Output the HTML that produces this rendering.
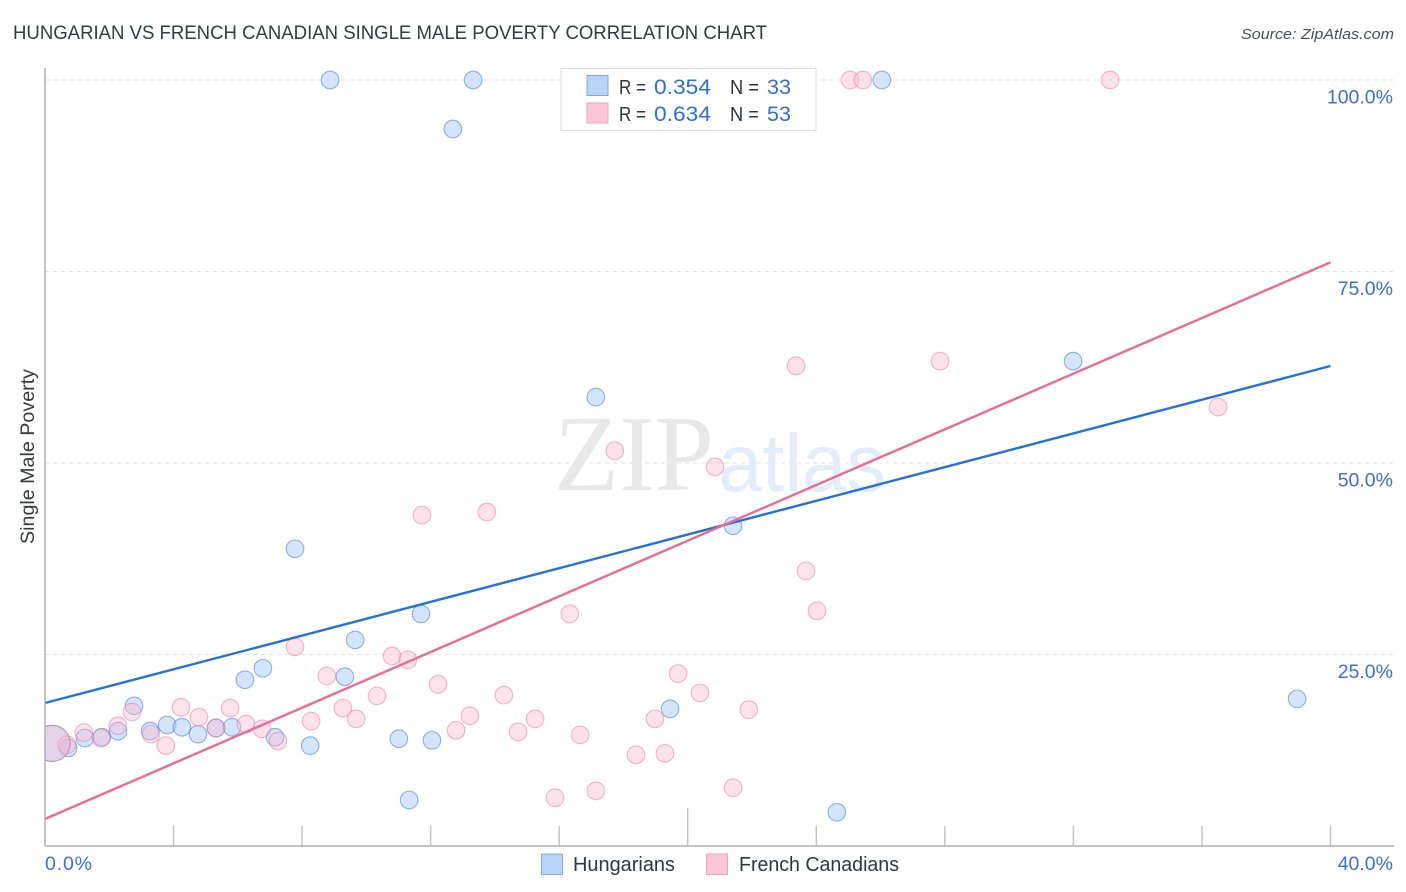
<!DOCTYPE html>
<html lang="en">
<head>
<meta charset="utf-8">
<title>Hungarian vs French Canadian Single Male Poverty Correlation Chart</title>
<style>
html,body{margin:0;padding:0;background:#fff;}
svg{display:block;font-family:"Liberation Sans",sans-serif;}
</style>
</head>
<body>
<svg id="chart" width="1406" height="892" viewBox="0 0 1406 892" xmlns="http://www.w3.org/2000/svg">
  <rect width="1406" height="892" fill="#ffffff"/>
  <text x="13" y="39" font-size="19" fill="#333a42" textLength="754" lengthAdjust="spacingAndGlyphs">HUNGARIAN VS FRENCH CANADIAN SINGLE MALE POVERTY CORRELATION CHART</text>
  <text x="1241" y="39" font-size="15" font-style="italic" fill="#4a4f57" textLength="153" lengthAdjust="spacingAndGlyphs">Source: ZipAtlas.com</text>

  <g id="grid"></g>

  <g>
    <text x="554" y="490" font-family="'Liberation Serif',serif" font-size="108" fill="#e8e8e8" textLength="160" lengthAdjust="spacingAndGlyphs">ZIP</text>
    <text x="718" y="491" font-family="'Liberation Sans',sans-serif" font-size="82" fill="#e3ecf9" textLength="168" lengthAdjust="spacingAndGlyphs">atlas</text>
  </g>

  <g id="points-hungarians"></g>
  <g id="points-french"></g>
  <g id="trends"></g>

  <g id="axes">
    <line x1="45" y1="68" x2="45" y2="846" stroke="#b0b0b0" stroke-width="1.5"/>
    <line x1="45" y1="846" x2="1394" y2="846" stroke="#b0b0b0" stroke-width="1.5"/>
  </g>
  <g id="xticks"></g>
  <g id="ylabels"></g>
  <g id="xlabels"></g>

  <text transform="translate(34 544) rotate(-90)" font-size="19" fill="#333a42" textLength="175" lengthAdjust="spacingAndGlyphs">Single Male Poverty</text>

  <g>
    <rect x="561" y="68.500" width="255" height="62" fill="#ffffff" fill-opacity="0.93" stroke="#dcdcdc" stroke-width="1"/>
    <rect x="587" y="75.500" width="21" height="20" fill="#b8d4f8" stroke="#7fa9e0" stroke-width="1"/>
    <text x="619" y="94" font-size="20" fill="#2f3640" textLength="27" lengthAdjust="spacingAndGlyphs">R =</text>
    <text x="654" y="94" font-size="21" fill="#2f6fd0" textLength="57" lengthAdjust="spacingAndGlyphs">0.354</text>
    <text x="730" y="94" font-size="20" fill="#2f3640" textLength="29" lengthAdjust="spacingAndGlyphs">N =</text>
    <text x="767" y="94" font-size="21" fill="#2f6fd0" textLength="24" lengthAdjust="spacingAndGlyphs">33</text>
    <rect x="587" y="103" width="21" height="20" fill="#fcc6d8" stroke="#eda3bd" stroke-width="1"/>
    <text x="619" y="121" font-size="20" fill="#2f3640" textLength="27" lengthAdjust="spacingAndGlyphs">R =</text>
    <text x="654" y="121" font-size="21" fill="#2f6fd0" textLength="57" lengthAdjust="spacingAndGlyphs">0.634</text>
    <text x="730" y="121" font-size="20" fill="#2f3640" textLength="29" lengthAdjust="spacingAndGlyphs">N =</text>
    <text x="767" y="121" font-size="21" fill="#2f6fd0" textLength="24" lengthAdjust="spacingAndGlyphs">53</text>
  </g>

  <g>
    <rect x="541.500" y="854" width="21" height="20.500" fill="#b8d4f8" stroke="#7fa9e0" stroke-width="1"/>
    <text x="573" y="871" font-size="20" fill="#2f3640" textLength="102" lengthAdjust="spacingAndGlyphs">Hungarians</text>
    <rect x="706.500" y="854" width="21" height="20.500" fill="#fcc6d8" stroke="#eda3bd" stroke-width="1"/>
    <text x="739" y="871" font-size="20" fill="#2f3640" textLength="160" lengthAdjust="spacingAndGlyphs">French Canadians</text>
  </g>
</svg>

<script>
// Chart data (x = % of population, y = single male poverty %)
const hungariansX = [8.87,13.32,26.04,12.69,17.14,31.99,21.41,7.78,11.70,9.65,6.78,6.22,9.33,2.77,19.45,38.96,3.80,4.26,3.27,2.27,4.76,5.32,5.82,1.77,1.24,0.72,7.16,8.25,11.01,12.04,11.33,24.64,0.22];
const hungariansY = [100,100,100,93.6,58.6,63.3,41.8,38.8,30.3,26.9,23.2,21.7,22.1,18.3,17.9,19.2,15.8,15.5,15.0,15.0,14.6,15.4,15.5,14.2,14.1,12.8,14.2,13.1,14.0,13.8,6.0,4.4,13.4];
const hungariansWeight = [1,1,1,1,1,1,1,1,1,1,1,1,1,1,1,1,1,1,1,1,1,1,1,1,1,1,1,1,1,1,1,1,4.2];

const frenchX = [25.05,25.45,33.14,22.81,23.37,27.85,36.50,17.73,20.85,11.73,13.75,23.68,24.02,16.33,7.78,10.80,11.29,8.77,12.23,10.33,14.28,19.70,20.38,4.23,5.76,4.79,2.71,2.27,9.27,9.68,8.28,13.22,15.25,18.98,21.90,6.25,6.75,5.32,12.79,14.72,16.65,18.39,19.29,21.41,17.14,15.87,7.25,3.76,3.30,1.74,1.21,0.68,0.22];
const frenchY = [100,100,100,100,62.7,63.3,57.3,51.6,49.5,43.2,43.6,35.9,30.7,30.3,26.0,24.8,24.3,22.2,21.1,19.6,19.7,22.5,20.0,18.1,18.0,16.8,17.5,15.7,18.0,16.6,16.3,17.0,16.6,16.6,17.8,15.9,15.3,15.4,15.1,14.9,14.5,11.9,12.1,7.6,7.2,6.3,13.7,13.1,14.6,14.1,14.8,13.2,13.4];
const frenchWeight = [1,1,1,1,1,1,1,1,1,1,1,1,1,1,1,1,1,1,1,1,1,1,1,1,1,1,1,1,1,1,1,1,1,1,1,1,1,1,1,1,1,1,1,1,1,1,1,1,1,1,1,1,4.2];

// Trend-line endpoints, in value space
const trendX = [0, 40];
const hungariansTrend = [18.67, 62.66];
const frenchTrend = [3.52, 76.2];

const xTickValues = [4,8,12,16,20,24,28,32,36,40];
const xMajorTick = [20];
const xLabelValues = [0, 40];
const xLabelText = ['0.0%', '40.0%'];
const yGridValues = [25, 50, 75, 100];
const yLabelText = ['25.0%', '50.0%', '75.0%', '100.0%'];

const NS = 'http://www.w3.org/2000/svg';
function xScale(v) { return 45 + v * (1285.5 / 40); }
function yScale(v) { return 846 - v * (766 / 100); }
function make(tag, parent, attrs) {
  const el = document.createElementNS(NS, tag);
  for (const k in attrs) el.setAttribute(k, attrs[k]);
  parent.appendChild(el);
  return el;
}

// Gridlines and y labels
const grid = document.getElementById('grid');
const ylabels = document.getElementById('ylabels');
yGridValues.forEach(function (v, i) {
  const line = make('line', grid, { x1: 45, x2: 1394, y1: yScale(v), y2: yScale(v), stroke: '#e2e2e2', 'stroke-width': 1, 'stroke-dasharray': '4 4' });
  
  
  const t = make('text', ylabels, { x: 1393, y: yScale(v) + 23.5, 'font-size': 19.5, fill: '#3b6fd1', 'text-anchor': 'end' });
  t.textContent = yLabelText[i];
  
  
});

// X ticks and labels
const xticks = document.getElementById('xticks');
xTickValues.forEach(function (v) {
  const top = xMajorTick.indexOf(v) >= 0 ? 808 : 826;
  const tick = make('line', xticks, { x1: xScale(v), x2: xScale(v), y1: top, y2: 846, stroke: '#c2c2c2', 'stroke-width': 1.4 });
  
  
});
const xlabels = document.getElementById('xlabels');
xLabelValues.forEach(function (v, i) {
  const t = make('text', xlabels, { x: i === 0 ? 45 : 1393, y: 870, 'font-size': 19.5, fill: '#3b6fd1', 'text-anchor': i === 0 ? 'start' : 'end' });
  t.textContent = xLabelText[i];
  if (i === 0) t.setAttribute('textLength', '47');
  
  
});

// Scatter points
function drawPoints(groupId, xs, ys, weights, fill, stroke, name) {
  const g = document.getElementById(groupId);
  xs.forEach(function (x, i) {
    const c = make('circle', g, {
      cx: xScale(x), cy: yScale(ys[i]), r: 8.8 * Math.sqrt(weights[i]),
      fill: fill, stroke: stroke, 'stroke-width': 1.1
    });
    
    
  });
}
drawPoints('points-hungarians', hungariansX, hungariansY, hungariansWeight, 'rgba(170,202,248,0.5)', 'rgba(58,118,216,0.55)', 'hungarians-point');
drawPoints('points-french', frenchX, frenchY, frenchWeight, 'rgba(250,182,205,0.4)', 'rgba(232,112,155,0.5)', 'french-canadians-point');

// Trend lines
const trends = document.getElementById('trends');
const blueLine = make('line', trends, { x1: xScale(trendX[0]), y1: yScale(hungariansTrend[0]), x2: xScale(trendX[1]), y2: yScale(hungariansTrend[1]), stroke: '#2472d8', 'stroke-width': 2.4 });


const pinkLine = make('line', trends, { x1: xScale(trendX[0]), y1: yScale(frenchTrend[0]), x2: xScale(trendX[1]), y2: yScale(frenchTrend[1]), stroke: '#ea6a96', 'stroke-width': 2.4 });



// Clip the plot marks at the y axis
const defs = make('defs', document.getElementById('chart'), {});
const clip = make('clipPath', defs, { id: 'plot-clip' });
make('rect', clip, { x: 45, y: 60, width: 1349, height: 786 });
document.getElementById('points-hungarians').setAttribute('clip-path', 'url(#plot-clip)');
document.getElementById('points-french').setAttribute('clip-path', 'url(#plot-clip)');
</script>
</body>
</html>
